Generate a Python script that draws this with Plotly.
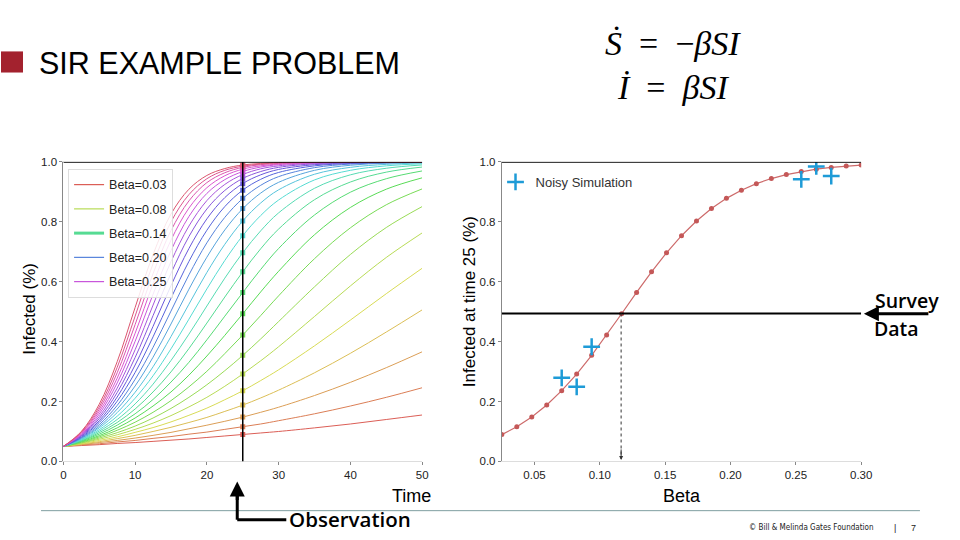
import colorsys
import plotly.graph_objects as go

# ---------------- data ----------------
time_points = [0, 2.5, 5, 7.5, 10, 12.5, 15, 17.5, 20, 22.5, 25, 27.5, 30, 35, 40, 45, 50]
beta_values = [0.025, 0.03646, 0.04792, 0.05938, 0.07083, 0.08229, 0.09375, 0.10521, 0.11667,
               0.12813, 0.13958, 0.15104, 0.1625, 0.17396, 0.18542, 0.19688, 0.20833, 0.21979,
               0.23125, 0.24271, 0.25417, 0.26563, 0.27708, 0.28854, 0.3]
# infected fraction (x1000) per beta curve at each time point
infected_curves = [
    [50, 53, 56, 60, 63, 67, 71, 75, 80, 85, 90, 95, 100, 112, 125, 140, 155],
    [50, 55, 59, 65, 70, 77, 83, 91, 98, 107, 116, 125, 136, 159, 185, 214, 246],
    [50, 56, 63, 70, 78, 87, 97, 109, 121, 134, 148, 164, 181, 220, 264, 313, 366],
    [50, 58, 66, 76, 87, 100, 114, 130, 147, 167, 188, 212, 238, 296, 361, 432, 506],
    [50, 59, 70, 82, 97, 113, 132, 154, 178, 206, 236, 270, 306, 386, 472, 560, 645],
    [50, 61, 74, 89, 107, 128, 153, 182, 214, 251, 292, 336, 383, 484, 586, 681, 763],
    [50, 62, 78, 96, 118, 145, 177, 214, 256, 303, 354, 409, 467, 583, 691, 781, 851],
    [50, 64, 82, 104, 131, 164, 203, 249, 301, 360, 422, 487, 553, 677, 780, 857, 910],
    [50, 66, 86, 112, 145, 185, 232, 288, 352, 421, 493, 566, 635, 757, 848, 909, 947],
    [50, 68, 91, 121, 159, 207, 265, 331, 406, 485, 564, 641, 711, 823, 899, 944, 970],
    [50, 69, 96, 130, 175, 232, 299, 377, 462, 549, 633, 710, 776, 874, 933, 966, 983],
    [50, 71, 101, 140, 192, 258, 337, 425, 519, 612, 697, 770, 830, 912, 957, 979, 990],
    [50, 73, 106, 151, 211, 286, 376, 475, 576, 671, 754, 821, 873, 940, 972, 987, 994],
    [50, 75, 112, 163, 231, 316, 417, 525, 631, 725, 803, 863, 907, 959, 982, 992, 997],
    [50, 77, 117, 175, 252, 348, 459, 575, 682, 773, 844, 896, 932, 972, 989, 996, 998],
    [50, 79, 123, 187, 274, 381, 502, 623, 730, 815, 878, 922, 951, 981, 993, 997, 999],
    [50, 81, 130, 201, 297, 416, 545, 668, 772, 851, 906, 942, 965, 987, 995, 998, 999],
    [50, 84, 136, 215, 322, 451, 587, 711, 810, 881, 928, 957, 975, 991, 997, 999, 999],
    [50, 86, 143, 230, 347, 487, 628, 751, 843, 905, 945, 968, 982, 994, 998, 999, 999],
    [50, 88, 150, 245, 373, 522, 667, 786, 871, 925, 958, 977, 987, 996, 999, 999, 999],
    [50, 90, 158, 262, 401, 558, 704, 818, 895, 941, 968, 983, 991, 997, 999, 999, 999],
    [50, 93, 166, 278, 428, 593, 739, 846, 914, 954, 976, 987, 993, 998, 999, 999, 999],
    [50, 95, 174, 296, 457, 627, 771, 870, 931, 964, 982, 991, 995, 999, 999, 999, 999],
    [50, 98, 182, 314, 485, 660, 800, 891, 944, 972, 986, 993, 997, 999, 999, 999, 999],
    [50, 100, 191, 333, 514, 691, 826, 909, 955, 978, 990, 995, 998, 999, 999, 999, 999],
]
infected_at_25 = [0.0895, 0.1158, 0.1485, 0.1885, 0.2362, 0.2917, 0.3542, 0.4221, 0.4931, 0.5643,
                  0.6331, 0.6967, 0.7537, 0.8029, 0.8444, 0.8784, 0.9058, 0.9276, 0.9446, 0.9578,
                  0.9680, 0.9758, 0.9817, 0.9862, 0.9896]
noisy_beta = [0.07083, 0.08229, 0.09375, 0.25417, 0.26563, 0.27708]
noisy_infected = [0.279, 0.249, 0.383, 0.942, 0.985, 0.953]
legend_index = [0, 5, 10, 15, 20]
observation_time = 25
survey_value = 0.494
estimated_beta = 0.1163

W, H = 960, 540
# the page is photographed slightly shrunk/offset; map target pixels to paper fractions accordingly
OX, SX, OY, SY = 2.0, 0.9844, 6.8, 0.973
def px(x): return (x - OX) / SX / W
def py(y): return 1 - (y - OY) / SY / H

colors = []
for k in range(len(beta_values)):
    h = (k / len(beta_values) + 0.01) % 1
    r, g, b = colorsys.hls_to_rgb(h, 0.6, 0.65)
    colors.append('#%02x%02x%02x' % (int(r * 255), int(g * 255), int(b * 255)))

SANS = "Liberation Sans, Arial, sans-serif"
TICKFONT = dict(family=SANS, size=11.5, color="#222")

fig = go.Figure()
for k, curve in enumerate(infected_curves):
    fig.add_trace(go.Scatter(x=time_points, y=[v / 1000 for v in curve], mode='lines',
                             line=dict(color=colors[k], width=1, shape='spline'),
                             showlegend=False, hoverinfo='skip', xaxis='x', yaxis='y'))
fig.add_trace(go.Scatter(x=[observation_time] * len(infected_at_25), y=infected_at_25, mode='markers',
                         marker=dict(symbol='square', size=5, color=colors), showlegend=False,
                         xaxis='x', yaxis='y'))
for i in legend_index:
    fig.add_trace(go.Scatter(x=[None], y=[None], mode='lines', name=f"Beta={beta_values[i]:.2f}",
                             line=dict(color=colors[i], width=3 if i == 10 else 1.2), xaxis='x', yaxis='y',
                             legend='legend', legendgroup=str(i)))

fig.add_trace(go.Scatter(x=beta_values, y=infected_at_25, mode='lines+markers',
                         line=dict(color='#cd6b6b', width=1.2), marker=dict(color='#c45858', size=5),
                         showlegend=False, xaxis='x2', yaxis='y2'))
fig.add_trace(go.Scatter(x=noisy_beta, y=noisy_infected, mode='markers', name='Noisy Simulation',
                         marker=dict(symbol='cross-thin', size=12, line=dict(color='#1e9bd7', width=2.5)),
                         xaxis='x2', yaxis='y2', legend='legend2'))

axis_common = dict(ticks='outside', ticklen=3, tickcolor='#888', showgrid=False, zeroline=False,
                   tickfont=TICKFONT, showline=True)
fig.update_layout(
    width=W, height=H, margin=dict(l=0, r=0, t=0, b=0), paper_bgcolor='white', plot_bgcolor='white',
    xaxis=dict(domain=[px(62.3), px(420.7)], range=[0, 50], tickvals=[0, 10, 20, 30, 40, 50],
               linecolor='#dddddd', mirror=True, anchor='y', **axis_common),
    yaxis=dict(domain=[py(460), py(162)], range=[0, 1], tickvals=[0, 0.2, 0.4, 0.6, 0.8, 1.0],
               tickformat='.1f', linecolor='#888', anchor='x', **axis_common),
    xaxis2=dict(domain=[px(500.3), px(859.3)], range=[0.025, 0.3], tickvals=[0.05, 0.1, 0.15, 0.2, 0.25, 0.3],
                tickformat='.2f', linecolor='#dddddd', mirror=True, anchor='y2', **axis_common),
    yaxis2=dict(domain=[py(460), py(162)], range=[0, 1], tickvals=[0, 0.2, 0.4, 0.6, 0.8, 1.0],
                tickformat='.1f', linecolor='#888', anchor='x2', **axis_common),
    legend=dict(x=px(67), y=py(169), xanchor='left', yanchor='top', bordercolor='#dddddd', borderwidth=1,
                bgcolor='rgba(255,255,255,0.85)', font=dict(family=SANS, size=12.5, color='#222'),
                tracegroupgap=5, itemwidth=30),
    legend2=dict(x=px(494), y=py(167), xanchor='left', yanchor='top', bgcolor='rgba(0,0,0,0)',
                 font=dict(family=SANS, size=13, color='#333'), itemwidth=30),
)

shapes = [
    dict(type='rect', xref='paper', yref='paper', x0=px(0), x1=px(22), y0=py(73), y1=py(52),
         fillcolor='#a3222e', line=dict(width=0)),
    dict(type='line', xref='paper', yref='paper', x0=px(40), x1=px(918), y0=py(509), y1=py(509),
         line=dict(color='#7f9ea0', width=1)),
    dict(type='line', xref='x', yref='y', x0=0, x1=50, y0=1, y1=1, line=dict(color='black', width=1.5)),
    dict(type='line', xref='x', yref='y', x0=observation_time, x1=observation_time, y0=0, y1=1,
         line=dict(color='black', width=1.5)),
    dict(type='line', xref='x2', yref='y2', x0=0.025, x1=0.3, y0=1, y1=1, line=dict(color='black', width=1.5)),
    dict(type='line', xref='x2', yref='y2', x0=0.025, x1=0.3, y0=survey_value, y1=survey_value,
         line=dict(color='black', width=2.2)),
    dict(type='line', xref='x2', yref='y2', x0=estimated_beta, x1=estimated_beta, y0=survey_value, y1=0.01,
         line=dict(color='#333', width=1, dash='dot')),
    dict(type='line', xref='paper', yref='paper', x0=px(236), x1=px(285), y0=py(518), y1=py(518),
         line=dict(color='black', width=3)),
    dict(type='line', xref='paper', yref='paper', x0=px(236), x1=px(236), y0=py(518), y1=py(490),
         line=dict(color='black', width=3)),
]
fig.update_layout(shapes=shapes)

ann = []
def text(x, y, s, size, family=SANS, color='black', xanchor='center', textangle=0, weight=None):
    f = dict(family=family, size=size, color=color)
    if weight:
        f['weight'] = weight
    ann.append(dict(x=px(x), y=py(y), xref='paper', yref='paper', text=s, showarrow=False, font=f,
                    xanchor=xanchor, yanchor='middle', textangle=textangle))

SERIF = 'Liberation Serif, Times New Roman'
text(36, 63.5, 'SIR EXAMPLE PROBLEM', 30.5, xanchor='left')
text(671, 44, '<i>Ṡ</i>\u2002=\u2002−<i>βSI</i>', 34, family=SERIF)
text(671, 88, '<i>İ</i>\u2002=\u2002<i>βSI</i>', 34, family=SERIF)
text(29, 308, 'Infected (%)', 17, textangle=-90)
text(468, 301, 'Infected at time 25 (%)', 17, textangle=-90)
text(410, 494, 'Time', 18)
text(680, 494, 'Beta', 18)
text(349, 517.5, 'Observation', 20.5, family='Open Sans, Noto Sans', weight=600)
text(905, 300, 'Survey', 19.5, family='Open Sans, Noto Sans', weight=600)
text(895, 328, 'Data', 19.5, family='Open Sans, Noto Sans', weight=600)
text(810, 526, '© Bill &amp; Melinda Gates Foundation', 8, family='DejaVu Sans Condensed, DejaVu Sans', color='#222')
text(893, 526, '|', 9, color='#222')
text(912, 526, '7', 9, color='#222')
ann.append(dict(x=px(236), y=py(480), ax=0, ay=20, xref='paper', yref='paper',
                text='', showarrow=True, arrowhead=2, arrowsize=1, arrowwidth=3, arrowcolor='black'))
ann.append(dict(x=px(862), y=py(313), ax=66, ay=0, xref='paper', yref='paper',
                text='', showarrow=True, arrowhead=2, arrowsize=1, arrowwidth=3, arrowcolor='black'))
ann.append(dict(x=estimated_beta, y=0.005, ax=0, ay=-12, xref='x2', yref='y2',
                text='', showarrow=True, arrowhead=2, arrowsize=0.8, arrowwidth=1, arrowcolor='#333'))
fig.update_layout(annotations=ann)

fig.write_html("out.html")
